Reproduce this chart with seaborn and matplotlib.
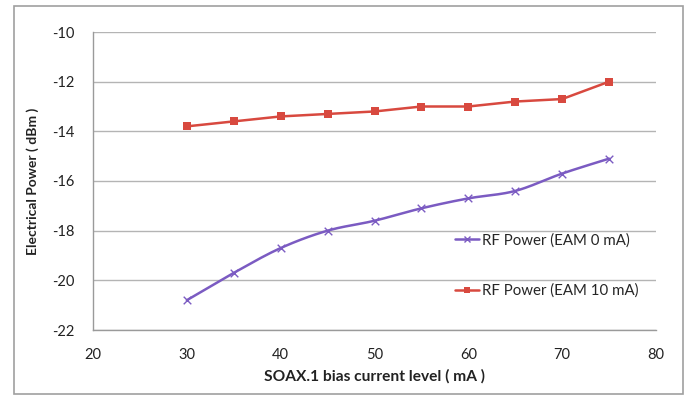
import numpy as np
import pandas as pd
import matplotlib
matplotlib.use("Agg")
import matplotlib.pyplot as plt
import seaborn as sns
from matplotlib.lines import Line2D
from matplotlib.patches import Rectangle

x_ma = [30, 35, 40, 45, 50, 55, 60, 65, 70, 75]
rf_eam0 = [-20.8, -19.7, -18.7, -18.0, -17.6, -17.1, -16.7, -16.4, -15.7, -15.1]
rf_eam10 = [-13.8, -13.6, -13.4, -13.3, -13.2, -13.0, -13.0, -12.8, -12.7, -12.0]
labels = ["RF Power (EAM 0 mA)", "RF Power (EAM 10 mA)"]
x_ticks = [20, 30, 40, 50, 60, 70, 80]
y_ticks = [-22, -20, -18, -16, -14, -12, -10]

purple = "#7B5BC2"
red = "#D8493F"

sns.set_theme(style="white")
plt.rcParams["font.family"] = ["Lato", "DejaVu Sans"]

fig = plt.figure(figsize=(6.89, 3.96), dpi=100)
ax = fig.add_axes([93 / 689, 1 - 330 / 396, (656 - 93) / 689, (330 - 32) / 396])

# smoothed line (Bezier through the data points, like Excel's smoothed line)
def catmull_rom(xs, ys, n=20):
    xs = np.asarray(xs, float); ys = np.asarray(ys, float)
    px = np.concatenate([[xs[0]], xs, [xs[-1]]])
    py = np.concatenate([[ys[0]], ys, [ys[-1]]])
    ox, oy = [], []
    t = np.linspace(0, 1, n)
    for i in range(1, len(px) - 2):
        p0, p1, p2, p3 = [np.array([px[j], py[j]]) for j in (i - 1, i, i + 1, i + 2)]
        c1 = p1 + (p2 - p0) / 6
        c2 = p2 - (p3 - p1) / 6
        b = ((1 - t) ** 3)[:, None] * p1 + (3 * (1 - t) ** 2 * t)[:, None] * c1 + \
            (3 * (1 - t) * t ** 2)[:, None] * c2 + (t ** 3)[:, None] * p2
        ox.extend(b[:, 0]); oy.extend(b[:, 1])
    return np.array(ox), np.array(oy)

sx, sy = catmull_rom(x_ma, rf_eam0)
smooth = pd.DataFrame({"x": sx, "y": sy})
sns.lineplot(data=smooth, x="x", y="y", ax=ax, color=purple, lw=1.8, sort=False,
             estimator=None, zorder=3)
df0 = pd.DataFrame({"x": x_ma, "y": rf_eam0})
sns.scatterplot(data=df0, x="x", y="y", ax=ax, marker="x", color=purple, s=30,
                linewidth=1.0, zorder=4)

df10 = pd.DataFrame({"x": x_ma, "y": rf_eam10})
sns.lineplot(data=df10, x="x", y="y", ax=ax, color=red, lw=1.8, marker="s",
             markersize=6, markeredgewidth=0, zorder=3)

ax.set_xlim(20, 80)
ax.set_ylim(-22, -10)
ax.set_xticks(x_ticks)
ax.set_yticks(y_ticks)
ax.set_xticklabels([str(v) for v in x_ticks])
ax.set_yticklabels([str(v) for v in y_ticks])
ax.tick_params(axis="both", labelsize=10.5, colors="#444444", labelcolor="#222222")
ax.tick_params(axis="y", direction="out", length=5, width=0.8, color="#9a9a9a", pad=8)
ax.tick_params(axis="x", direction="inout", length=8, width=0.8, color="#9a9a9a", pad=9)
ax.grid(axis="y", color="#b4b4b4", lw=1.0)
ax.grid(axis="x", visible=False)
for s in ["top", "right"]:
    ax.spines[s].set_visible(False)
for s in ["left", "bottom"]:
    ax.spines[s].set_color("#9a9a9a")
    ax.spines[s].set_linewidth(1.0)

ax.set_xlabel("SOAX.1 bias current level ( mA )", fontsize=11.2, fontweight="bold",
              color="#222222", labelpad=5)
ax.set_ylabel("Electrical Power ( dBm )", fontsize=10, fontweight="bold",
              color="#222222", labelpad=10)

handles = [
    Line2D([], [], color=purple, lw=1.8, marker="x", markersize=5, markeredgewidth=1.0),
    Line2D([], [], color=red, lw=1.8, marker="s", markersize=5, markeredgewidth=0),
]
ax.legend(handles, labels, loc="upper left", bbox_to_anchor=(0.643, 0.325),
          frameon=False, fontsize=10.8, handlelength=1.6, handletextpad=0.2,
          labelspacing=2.4, borderaxespad=0, borderpad=0)

fig.patches.append(Rectangle((14 / 689, 2 / 396), (683 - 14) / 689, (390 - 2) / 396,
                             transform=fig.transFigure, fill=False,
                             edgecolor="#a0a0a0", lw=1.2))

fig.savefig("out.png", dpi=100)
